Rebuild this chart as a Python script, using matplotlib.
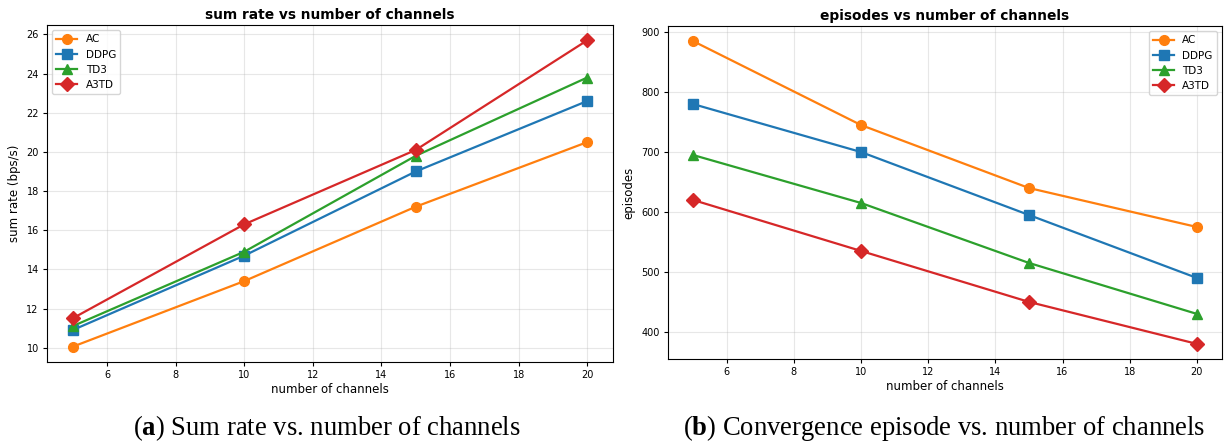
import matplotlib
matplotlib.use("Agg")
import matplotlib.pyplot as plt

plt.rcParams["mathtext.fontset"] = "custom"
plt.rcParams["mathtext.rm"] = "Liberation Serif"
plt.rcParams["mathtext.bf"] = "Liberation Serif:bold"

channels = [5, 10, 15, 20]
series_names = ["AC", "DDPG", "TD3", "A3TD"]
colors = ["#ff7f0e", "#1f77b4", "#2ca02c", "#d62728"]
markers = ["o", "s", "^", "D"]

rate_ac = [10.05, 13.4, 17.2, 20.5]
rate_ddpg = [10.9, 14.7, 19.0, 22.6]
rate_td3 = [11.1, 14.9, 19.8, 23.8]
rate_a3td = [11.5, 16.3, 20.1, 25.7]

ep_ac = [885, 745, 640, 575]
ep_ddpg = [780, 700, 595, 490]
ep_td3 = [695, 615, 515, 430]
ep_a3td = [620, 535, 450, 380]

fig = plt.figure(figsize=(12.25, 4.44), dpi=100)
ax1 = fig.add_axes([0.0384, 0.1847, 0.4620, 0.7590])
ax2 = fig.add_axes([0.5453, 0.1914, 0.4523, 0.7500])

def draw(ax, data, title, ylabel, loc):
    for name, vals, c, m in zip(series_names, data, colors, markers):
        ax.plot(channels, vals, color=c, marker=m, markersize=7, linewidth=1.6, label=name)
    ax.set_title(title, fontsize=9.9, fontweight="bold", pad=4)
    ax.set_xlabel("number of channels", fontsize=8.5, labelpad=2)
    ax.set_ylabel(ylabel, fontsize=8.5, labelpad=4)
    ax.tick_params(labelsize=7, length=3, pad=3)
    ax.grid(True, alpha=0.3)
    ax.set_xticks([6, 8, 10, 12, 14, 16, 18, 20])
    ax.legend(loc=loc, fontsize=7.5, handlelength=2.0, borderpad=0.4, labelspacing=0.5)

draw(ax1, [rate_ac, rate_ddpg, rate_td3, rate_a3td], "sum rate vs number of channels",
     "sum rate (bps/s)", "upper left")
draw(ax2, [ep_ac, ep_ddpg, ep_td3, ep_a3td], "episodes vs number of channels",
     "episodes", "upper right")

fig.text(0.267, 0.02, r"($\mathbf{a}$) Sum rate vs. number of channels", ha="center", va="baseline",
         fontfamily="Liberation Serif", fontsize=19.2)
fig.text(0.771, 0.02, r"($\mathbf{b}$) Convergence episode vs. number of channels", ha="center",
         va="baseline", fontfamily="Liberation Serif", fontsize=19.2)

fig.savefig("out.png", dpi=100)
